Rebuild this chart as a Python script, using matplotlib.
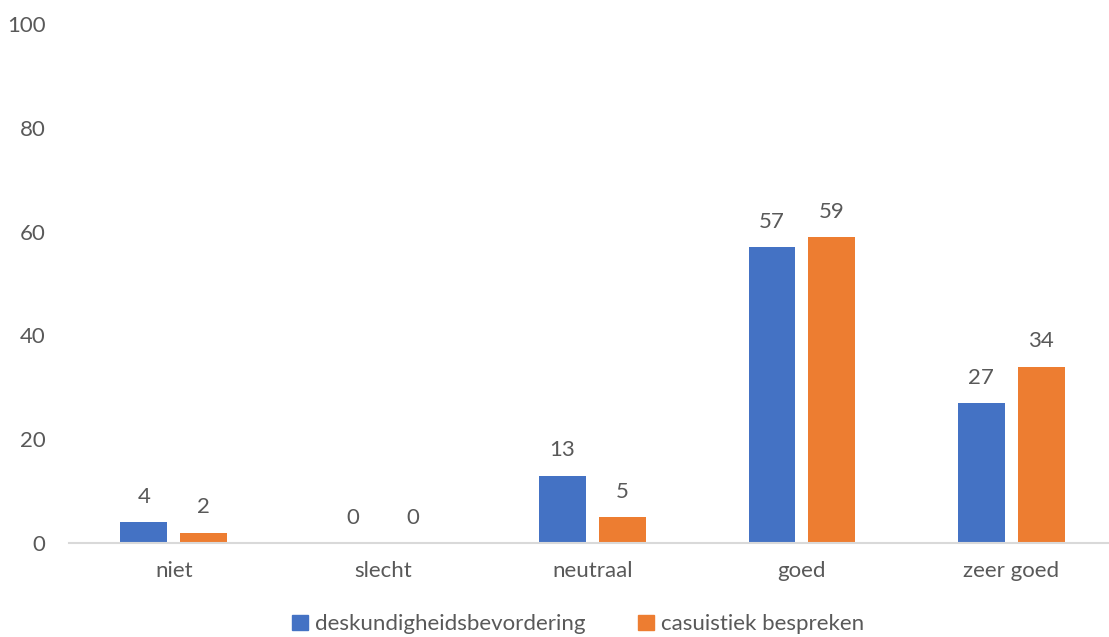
import numpy as np
import matplotlib.pyplot as plt
from matplotlib.patches import Patch

categories = ["niet", "slecht", "neutraal", "goed", "zeer goed"]
deskundigheid = [4, 0, 13, 57, 27]
casuistiek = [2, 0, 5, 59, 34]
series_names = ["deskundigheidsbevordering", "casuistiek bespreken"]

blue = "#4472C4"
orange = "#ED7D31"
grey = "#595959"

plt.rcParams['font.family'] = ['Lato', 'DejaVu Sans']
fs = 16

fig = plt.figure(figsize=(11.09, 6.37), dpi=100)
ax = fig.add_axes([69 / 1109, 94 / 637, (1116 - 69) / 1109, (613 - 94) / 637])

x = np.arange(len(categories))
w = 0.224
off = 0.143
b1 = ax.bar(x - off, deskundigheid, w, color=blue)
b2 = ax.bar(x + off, casuistiek, w, color=orange)

# value labels above each bar
for bars, vals in [(b1, deskundigheid), (b2, casuistiek)]:
    for b, v in zip(bars, vals):
        ax.annotate(str(v), (b.get_x() + b.get_width() / 2, v),
                    xytext=(0, 11), textcoords="offset points",
                    ha="center", va="bottom", fontsize=fs, color=grey)

ax.set_xlim(-0.5, len(categories) - 0.5)
ax.set_ylim(0, 100)
ax.set_yticks([0, 20, 40, 60, 80, 100])
ax.set_xticks(x)
ax.set_xticklabels(categories)
ax.tick_params(axis="both", length=0, labelsize=fs, colors=grey)
ax.tick_params(axis="y", pad=17)
ax.tick_params(axis="x", pad=13)

for s in ["top", "right", "left"]:
    ax.spines[s].set_visible(False)
ax.spines["bottom"].set_color("#D9D9D9")
ax.spines["bottom"].set_linewidth(1.5)

handles = [Patch(color=blue), Patch(color=orange)]
fig.legend(handles, series_names, loc="lower center", bbox_to_anchor=(578 / 1109, -0.027),
           ncol=2, frameon=False, fontsize=fs, labelcolor=grey,
           handlelength=0.7, handleheight=0.7, handletextpad=0.3, columnspacing=2.4)

fig.savefig("out.png", dpi=100)
